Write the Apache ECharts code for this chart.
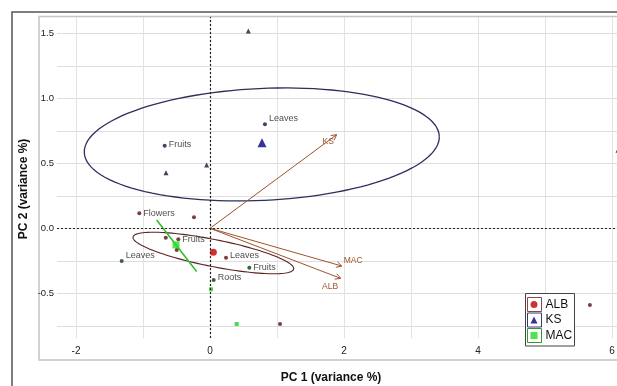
<!DOCTYPE html>
<html><head><meta charset="utf-8">
<script src="https://cdn.jsdelivr.net/npm/echarts@6/dist/echarts.min.js"></script>
<style>html,body{margin:0;padding:0;background:#fff}#c{width:617px;height:386px}</style>
</head><body><div id="c"></div>
<script>
// ---- data ----
const groupNames = ['ALB', 'KS', 'MAC'];
const centroidX = [0.05, 0.776, -0.507];
const centroidY = [-0.185, 0.658, -0.128];

const albX = [-1.055, -0.473, 0.239, -0.66, -0.497, -0.239, 1.045, 5.67];
const albY = [0.115, -0.085, -0.226, -0.072, -0.167, 0.085, -0.736, -0.59];
const albLabels = ['Flowers', 'Fruits', 'Leaves', '', '', '', '', ''];

const ksDotX = [0.82, -0.676];
const ksDotY = [0.80, 0.635];
const ksDotLabels = ['Leaves', 'Fruits'];
const ksTriX = [0.572, -0.657, -0.05, 6.09];
const ksTriY = [1.518, 0.428, 0.487, 0.60];

const macDotX = [-1.318, 0.587, 0.055];
const macDotY = [-0.252, -0.303, -0.398];
const macDotLabels = ['Leaves', 'Fruits', 'Roots'];
const macSqX = [0.016, 0.398];
const macSqY = [-0.469, -0.736];

// confidence ellipses: centre, semi-axis u, semi-axis v (data units)
const ellipseNames = ['KS', 'ALB', 'MAC'];
const ellipseCx = [0.773, 0.05, -0.4975];
const ellipseCy = [0.645, -0.19, -0.1345];
const ellipseUx = [2.649, 1.199, 0.2985];
const ellipseUy = [0.0638, -0.123, -0.1985];
const ellipseVx = [-0.039, 0.039, 0.0];
const ellipseVy = [0.430, 0.102, 0.0];

// loading vectors
const arrowNames = ['KS', 'MAC', 'ALB'];
const arrowX = [1.89, 1.966, 1.95];
const arrowY = [0.72, -0.29, -0.385];

const xTicks = [-2, -1, 0, 1, 2, 3, 4, 5, 6];
const xTickLabels = [-2, 0, 2, 4, 6];
const yTicks = [-0.75, -0.5, -0.25, 0, 0.25, 0.5, 0.75, 1, 1.25, 1.5];
const yTickLabels = [-0.5, 0, 0.5, 1, 1.5];

// ---- styles ----
const FONT = "'Liberation Sans', Arial, sans-serif";
const ellipseColors = ['#2e2f5c', '#5b2424', '#2fbf2f'];
const ellipseWidths = [1.3, 1.1, 1.6];
const arrowColor = '#a0522d';
const arrowLabelOffset = [[-8.5, 6.5], [11.5, -5], [-10.5, 8.5]];
const pointLabelDy = { 'ALB': [0, 0, -2, 0, 0, 0, 0, 0], 'KS': [-6, -1], 'MAC': [-6, 0, -3] };

function zip(xs, ys) { return xs.map((x, i) => [x, ys[i]]); }

function labeled(xs, ys, labels, dys) {
  return xs.map((x, i) => ({
    value: [x, ys[i]],
    label: { show: !!labels[i], formatter: labels[i] || '', offset: [0, dys[i] || 0] }
  }));
}

const pointLabel = { show: true, position: 'right', distance: 2, fontSize: 9, color: '#222', fontFamily: FONT };

const chart = echarts.init(document.getElementById('c'), null, { renderer: 'canvas' });

const option = {
  animation: false,
  backgroundColor: '#fff',
  grid: { left: 57, top: 17, right: -13, bottom: 48, show: false, containLabel: false, outerBoundsMode: 'none' },
  xAxis: {
    type: 'value', min: -153 / 67, max: 420 / 67,
    axisLine: { show: false },
    axisTick: { show: false, customValues: xTicks },
    splitLine: { show: true, lineStyle: { color: '#e2e2e2', width: 1 } },
    axisLabel: { customValues: xTickLabels, margin: 8, fontSize: 10, color: '#222', fontFamily: FONT,
      formatter: v => String(Math.round(v)) },
    name: 'PC 1 (variance %)', nameLocation: 'middle', nameGap: 34, nameMoveOverlap: false,
    nameTextStyle: { fontSize: 12, fontWeight: 'bold', color: '#111', fontFamily: FONT, padding: [0, 25, 0, 0] }
  },
  yAxis: {
    type: 'value', min: -109.7 / 130, max: 211.3 / 130,
    axisLine: { show: false },
    axisTick: { show: false, customValues: yTicks },
    splitLine: { show: true, lineStyle: { color: '#dedede', width: 1 } },
    axisLabel: { customValues: yTickLabels, margin: 3, fontSize: 9.5, color: '#222', fontFamily: FONT,
      formatter: v => v.toFixed(1) },
    name: 'PC 2 (variance %)', nameLocation: 'middle', nameGap: 27, nameMoveOverlap: false,
    nameTextStyle: { fontSize: 12, fontWeight: 'bold', color: '#111', fontFamily: FONT, padding: [0, 23, 0, 0] }
  },
  legend: {
    data: groupNames, orient: 'vertical', left: 530.5, top: 297.5, padding: 0,
    itemWidth: 7, itemHeight: 7, itemGap: 1.5, z: 20,
    textStyle: { fontSize: 12, lineHeight: 14, color: '#111', padding: [0, 0, 0, 3], fontFamily: FONT }
  },
  graphic: [
    { type: 'rect', z: 0, silent: true, shape: { x: 12, y: 12, width: 700, height: 500 }, style: { fill: 'none', stroke: '#555', lineWidth: 1.5 } },
    { type: 'rect', z: 0, silent: true, shape: { x: 39, y: 16.5, width: 700, height: 343.5 }, style: { fill: 'none', stroke: '#c4c4c4', lineWidth: 1.5 } },
    { type: 'rect', z: 15, silent: true, shape: { x: 525.5, y: 293.5, width: 49, height: 52.5 }, style: { fill: '#fff', stroke: '#444', lineWidth: 1 } },
    { type: 'rect', z: 16, silent: true, shape: { x: 527.5, y: 297.5, width: 14, height: 14 }, style: { fill: '#fff', stroke: '#8a4646', lineWidth: 1 } },
    { type: 'rect', z: 16, silent: true, shape: { x: 527.5, y: 313, width: 14, height: 14 }, style: { fill: '#fff', stroke: '#3b3b6b', lineWidth: 1 } },
    { type: 'rect', z: 16, silent: true, shape: { x: 527.5, y: 328.5, width: 14, height: 14 }, style: { fill: '#fff', stroke: '#2e9a2e', lineWidth: 1 } }
  ],
  series: [
    {
      name: 'ellipses', type: 'custom', coordinateSystem: 'cartesian2d', silent: true, z: 2,
      encode: { x: 0, y: 1 },
      data: ellipseCx.map((cx, i) => [cx, ellipseCy[i], ellipseUx[i], ellipseUy[i], ellipseVx[i], ellipseVy[i]]),
      renderItem: function (params, api) {
        const cx = api.value(0), cy = api.value(1), ux = api.value(2), uy = api.value(3), vx = api.value(4), vy = api.value(5);
        const pts = [];
        for (let k = 0; k <= 120; k++) {
          const t = k / 120 * 2 * Math.PI;
          pts.push(api.coord([cx + ux * Math.cos(t) + vx * Math.sin(t), cy + uy * Math.cos(t) + vy * Math.sin(t)]));
        }
        return { type: 'polyline', shape: { points: pts },
          style: { stroke: ellipseColors[params.dataIndex], lineWidth: ellipseWidths[params.dataIndex], fill: 'none' } };
      }
    },
    {
      name: 'loadings', type: 'custom', coordinateSystem: 'cartesian2d', silent: true, z: 3,
      encode: { x: 0, y: 1 },
      data: zip(arrowX, arrowY),
      renderItem: function (params, api) {
        const o = api.coord([0, 0]);
        const e = api.coord([api.value(0), api.value(1)]);
        const ang = Math.atan2(e[1] - o[1], e[0] - o[0]);
        const L = 6, w = 0.5;
        const p1 = [e[0] - L * Math.cos(ang - w), e[1] - L * Math.sin(ang - w)];
        const p2 = [e[0] - L * Math.cos(ang + w), e[1] - L * Math.sin(ang + w)];
        const off = arrowLabelOffset[params.dataIndex];
        return { type: 'group', children: [
          { type: 'line', shape: { x1: o[0], y1: o[1], x2: e[0], y2: e[1] }, style: { stroke: arrowColor, lineWidth: 1 } },
          { type: 'polyline', shape: { points: [p1, e, p2] }, style: { stroke: arrowColor, lineWidth: 1, fill: 'none' } },
          { type: 'text', x: e[0] + off[0], y: e[1] + off[1],
            style: { text: arrowNames[params.dataIndex], fill: arrowColor, font: '8.5px ' + FONT, align: 'center', verticalAlign: 'middle' } }
        ] };
      }
    },
    {
      name: 'ALB points', type: 'scatter', symbol: 'circle', symbolSize: 4, z: 4,
      itemStyle: { color: '#5a0c0c' }, label: pointLabel,
      data: labeled(albX, albY, albLabels, pointLabelDy['ALB']),
      markLine: {
        silent: true, symbol: 'none', label: { show: false },
        lineStyle: { color: '#222', type: [2, 2], width: 1.2 },
        data: [{ xAxis: 0 }, { yAxis: 0 }]
      }
    },
    {
      name: 'KS points', type: 'scatter', symbol: 'circle', symbolSize: 4, z: 4,
      itemStyle: { color: '#14143c' }, label: pointLabel,
      data: labeled(ksDotX, ksDotY, ksDotLabels, pointLabelDy['KS'])
    },
    {
      name: 'KS triangles', type: 'scatter', symbol: 'triangle', symbolSize: 5, z: 4,
      itemStyle: { color: '#14143c' }, data: zip(ksTriX, ksTriY)
    },
    {
      name: 'MAC points', type: 'scatter', symbol: 'circle', symbolSize: 4, z: 4,
      itemStyle: { color: '#0b3a14' }, label: pointLabel,
      data: labeled(macDotX, macDotY, macDotLabels, pointLabelDy['MAC'])
    },
    {
      name: 'MAC squares', type: 'scatter', symbol: 'rect', symbolSize: 4, z: 4,
      itemStyle: { color: '#22cc22' }, data: zip(macSqX, macSqY)
    },
    { name: 'ALB', type: 'scatter', symbol: 'circle', symbolSize: 7, z: 5, itemStyle: { color: '#c00000' }, data: [[centroidX[0], centroidY[0]]] },
    { name: 'KS', type: 'scatter', symbol: 'triangle', symbolSize: 9, z: 5, itemStyle: { color: '#00007f' }, data: [[centroidX[1], centroidY[1]]] },
    { name: 'MAC', type: 'scatter', symbol: 'rect', symbolSize: 7, z: 5, itemStyle: { color: '#22dd22' }, data: [[centroidX[2], centroidY[2]]] }
  ]
};
chart.setOption(option);
</script>
</body></html>
